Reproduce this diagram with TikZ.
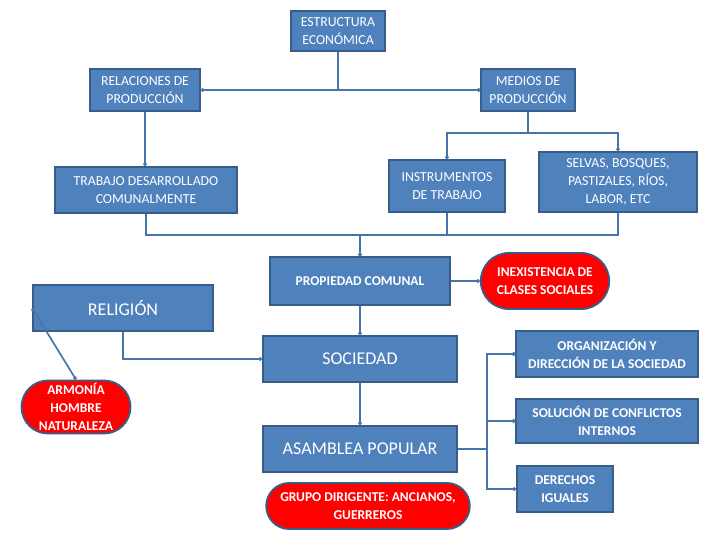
\documentclass[tikz,border=0pt]{standalone}
\usepackage{fontspec}
\setmainfont{Carlito}
\usetikzlibrary{shapes.misc,arrows.meta}
\definecolor{azul}{HTML}{4F81BD}
\definecolor{borde}{HTML}{385D8A}
\begin{document}
\begin{tikzpicture}[x=0.025cm, y=-0.025cm,
    caja/.style={draw=borde, line width=1.3pt, fill=azul, text=white, align=center,
                 font=\fontsize{9.8}{12.8}\selectfont, inner sep=2pt},
    negrita/.style={font=\fontsize{9.6}{12.8}\selectfont\bfseries},
    grande/.style={font=\fontsize{12.8}{15}\selectfont},
    ovalo/.style={caja, rounded rectangle, fill=red, negrita},
    linea/.style={draw=azul!90!black, line width=1.2pt},
    punta/.style={-{Circle[length=2.6pt]}}]
    \useasboundingbox (0,0) rectangle (720,540);

    \node[caja, minimum width=2.33cm, minimum height=1cm] (est) at (338,31) {ESTRUCTURA\\ECONÓMICA};
    \node[caja, minimum width=2.75cm, minimum height=1.03cm] (rel) at (145,90) {RELACIONES DE\\PRODUCCIÓN};
    \node[caja, minimum width=2.33cm, minimum height=1.03cm] (med) at (528,90) {MEDIOS DE\\PRODUCCIÓN};
    \node[caja, minimum width=4.55cm, minimum height=1.15cm] (trab) at (146,190) {TRABAJO DESARROLLADO\\COMUNALMENTE};
    \node[caja, minimum width=2.9cm, minimum height=1.3cm] (instr) at (447,186) {INSTRUMENTOS\\DE TRABAJO};
    \node[caja, minimum width=3.93cm, minimum height=1.5cm] (selv) at (618,182) {SELVAS, BOSQUES,\\PASTIZALES, RÍOS,\\LABOR, ETC};
    \node[caja, negrita, minimum width=4.5cm, minimum height=1.18cm] (prop) at (360,281) {PROPIEDAD COMUNAL};
    \node[ovalo, minimum width=3.35cm, minimum height=1.4cm] (inex) at (545,281) {INEXISTENCIA DE\\CLASES SOCIALES};
    \node[caja, grande, minimum width=4.5cm, minimum height=1.13cm] (relig) at (123,308) {RELIGIÓN};
    \node[caja, grande, minimum width=4.85cm, minimum height=1.15cm] (soc) at (360,359) {SOCIEDAD};
    \node[ovalo, minimum width=2.7cm, minimum height=1.3cm] (armo) at (76,407) {ARMONÍA\\HOMBRE\\NATURALEZA};
    \node[caja, grande, minimum width=4.83cm, minimum height=1.15cm] (asam) at (360,449) {ASAMBLEA POPULAR};
    \node[ovalo, minimum width=5.23cm, minimum height=1.15cm] (grupo) at (368,506) {GRUPO DIRIGENTE: ANCIANOS,\\GUERREROS};
    \node[caja, negrita, minimum width=4.53cm, minimum height=1.15cm] (org) at (607,354) {ORGANIZACIÓN Y\\DIRECCIÓN DE LA SOCIEDAD};
    \node[caja, negrita, minimum width=4.53cm, minimum height=1.1cm] (sol) at (607,421) {SOLUCIÓN DE CONFLICTOS\\INTERNOS};
    \node[caja, negrita, minimum width=2.4cm, minimum height=1.15cm] (der) at (565,489) {DERECHOS\\IGUALES};

    \coordinate (arriba) at (est.south |- rel.east);
    \coordinate (medio) at (528,133);
    \coordinate (bus) at (prop.north |- 0,235);
    \coordinate (der-bus) at (487,449);

    \draw[linea, {Circle[length=2.6pt]}-{Circle[length=2.6pt]}] (rel.east) -- (med.west);
    \draw[linea] (est.south) -- (arriba);
    \draw[linea, punta] (rel.south) -- (rel.south |- trab.north);
    \draw[linea] (med.south) -- (medio);
    \draw[linea, punta] (medio) -| (instr.north);
    \draw[linea, punta] (medio) -| (selv.north);
    \draw[linea] (trab.south) |- (bus) -| (selv.south);
    \draw[linea] (instr.south) -- (instr.south |- bus);
    \draw[linea, punta] (bus) -- (prop.north);
    \draw[linea, punta] (prop.east) -- (inex.west);
    \draw[linea, punta] (prop.south) -- (soc.north);
    \draw[linea, punta] (relig.south) |- (soc.west);
    \draw[linea, {Circle[length=2.6pt]}-{Circle[length=2.6pt]}] (relig.west) -- (armo.north);
    \draw[linea, punta] (soc.south) -- (asam.north);
    \draw[linea] (asam.east) -- (der-bus);
    \draw[linea, punta] (der-bus) |- (org.west);
    \draw[linea, punta] (der-bus) |- (sol.west);
    \draw[linea, punta] (der-bus) |- (der.west);
\end{tikzpicture}
\end{document}
